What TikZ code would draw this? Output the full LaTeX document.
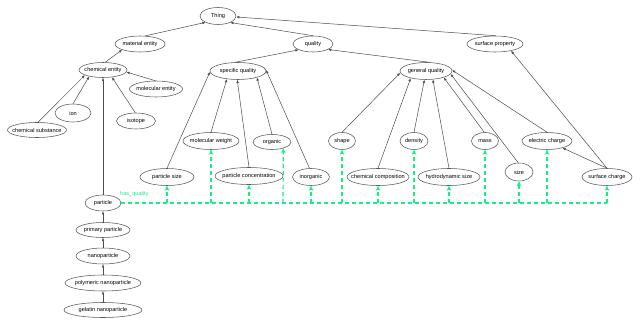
\documentclass[tikz,border=0pt]{standalone}
\usepackage{fontspec}
\setmainfont{Liberation Sans}
\usetikzlibrary{shapes.geometric,arrows.meta}
\definecolor{hq}{RGB}{20,240,135}
\newcommand{\lbl}[1]{\makebox[0pt]{#1}}
\tikzset{
  ent/.style={ellipse, draw=black!65, line width=0.55pt, inner sep=0pt,
    font=\fontsize{5.6}{6.5}\selectfont},
  isa/.style={draw=black!70, line width=0.5pt, -{Latex[length=3.2pt,width=2.6pt]}},
  hasq/.style={draw=hq, line width=1.2pt, dash pattern=on 4pt off 3pt},
  hasqa/.style={hasq, -{Stealth[length=5pt,width=4.5pt]}},
}
\begin{document}
\begin{tikzpicture}[x=1pt,y=-1pt]
\useasboundingbox[fill=white] (0,0) rectangle (640,326);
% nodes
\node[ent, minimum width=36, minimum height=17] (thing) at (218,16) {\lbl{Thing}};
\node[ent, minimum width=50, minimum height=16] (matent) at (140,44) {\lbl{material entity}};
\node[ent, minimum width=40, minimum height=16] (quality) at (313,44) {\lbl{quality}};
\node[ent, minimum width=56, minimum height=16] (surfprop) at (495,44) {\lbl{surface property}};
\node[ent, minimum width=48, minimum height=15] (chement) at (103,70) {\lbl{chemical entity}};
\node[ent, minimum width=56, minimum height=17] (specq) at (238,71) {\lbl{specific quality}};
\node[ent, minimum width=52, minimum height=17] (genq) at (426,71) {\lbl{general quality}};
\node[ent, minimum width=53, minimum height=16] (molent) at (156,89) {\lbl{molecular entity}};
\node[ent, minimum width=36, minimum height=18] (ion) at (73,113) {\lbl{ion}};
\node[ent, minimum width=39, minimum height=16] (isotope) at (136,121) {\lbl{isotope}};
\node[ent, minimum width=59, minimum height=15] (chemsub) at (37,130) {\lbl{chemical substance}};
\node[ent, minimum width=56, minimum height=17] (molw) at (211,141) {\lbl{molecular weight}};
\node[ent, minimum width=38, minimum height=15] (organic) at (272,142) {\lbl{organic}};
\node[ent, minimum width=27, minimum height=17] (shape) at (342,141) {\lbl{shape}};
\node[ent, minimum width=28, minimum height=17] (density) at (414,141) {\lbl{density}};
\node[ent, minimum width=27, minimum height=17] (mass) at (485,141) {\lbl{mass}};
\node[ent, minimum width=50, minimum height=17] (elch) at (547,141) {\lbl{electric charge}};
\node[ent, minimum width=54, minimum height=17] (psize) at (167,177) {\lbl{particle size}};
\node[ent, minimum width=68, minimum height=17] (pconc) at (249,176) {\lbl{particle concentration}};
\node[ent, minimum width=37, minimum height=17] (inorg) at (311,177) {\lbl{inorganic}};
\node[ent, minimum width=62, minimum height=17] (chemcomp) at (378,177) {\lbl{chemical composition}};
\node[ent, minimum width=62, minimum height=17] (hydro) at (449,177) {\lbl{hydrodynamic size}};
\node[ent, minimum width=28, minimum height=18] (size) at (519,172) {\lbl{size}};
\node[ent, minimum width=50, minimum height=17] (surfch) at (607,177) {\lbl{surface charge}};
\node[ent, minimum width=36, minimum height=16] (particle) at (103,203) {\lbl{particle}};
\node[ent, minimum width=54, minimum height=15] (primp) at (103,230) {\lbl{primary particle}};
\node[ent, minimum width=54, minimum height=16] (nanop) at (103,256) {\lbl{nanoparticle}};
\node[ent, minimum width=76, minimum height=16] (polyn) at (103,283) {\lbl{polymeric nanoparticle}};
\node[ent, minimum width=78, minimum height=15] (gelat) at (103,310) {\lbl{gelatin nanoparticle}};
\node[font=\fontsize{5.6}{6.5}\selectfont, text=hq, anchor=west, inner sep=0pt] (hqlab) at (120,194) {has\_quality};
% is-a edges
\draw[isa] (matent.58) -- (thing.-153);
\draw[isa] (quality.north) -- (thing.-28);
\draw[isa] (surfprop.85) -- (thing.-3);
\draw[isa] (chement.74) -- (matent.-162);
\draw[isa] (specq.108) -- (quality.-158);
\draw[isa] (genq.66) -- (quality.-20);
\draw[isa] (chemsub.83) -- (chement.-164);
\draw[isa] (ion.north) -- (chement.-155);
\draw[isa] (isotope.95) -- (chement.-39);
\draw[isa] (molent.95) -- (chement.-5);
\draw[isa] (particle.north) -- (chement.south);
\draw[isa] (psize.north) -- (specq.-178);
\draw[isa] (molw.north) -- (specq.-144);
\draw[isa] (pconc.north) -- (specq.-95);
\draw[isa] (organic.north) -- (specq.-19);
\draw[isa] (inorg.100) -- (specq.2);
\draw[isa] (shape.north) -- (genq.-176);
\draw[isa] (chemcomp.north) -- (genq.-155);
\draw[isa] (density.north) -- (genq.-100);
\draw[isa] (hydro.north) -- (genq.-51);
\draw[isa] (mass.95) -- (genq.-20);
\draw[isa] (size.95) -- (genq.-7);
\draw[isa] (elch.north) -- (genq.2);
\draw[isa] (surfch.north) -- (elch.-24);
\draw[isa] (surfch.north) -- (surfprop.-23);
\draw[isa] (primp) -- (particle);
\draw[isa] (nanop) -- (primp);
\draw[isa] (polyn) -- (nanop);
\draw[isa] (gelat) -- (polyn);
% has_quality edges
\coordinate (orgc) at (283,203);
\draw[hasq] (particle.east) -- (surfch |- particle);
\foreach \n in {psize,molw,pconc,inorg,shape,chemcomp,density,hydro,mass,size,elch,surfch}
  \draw[hasqa] (\n |- particle) -- (\n);
\draw[hasqa] (orgc) -- (organic.-29);
\end{tikzpicture}
\end{document}
